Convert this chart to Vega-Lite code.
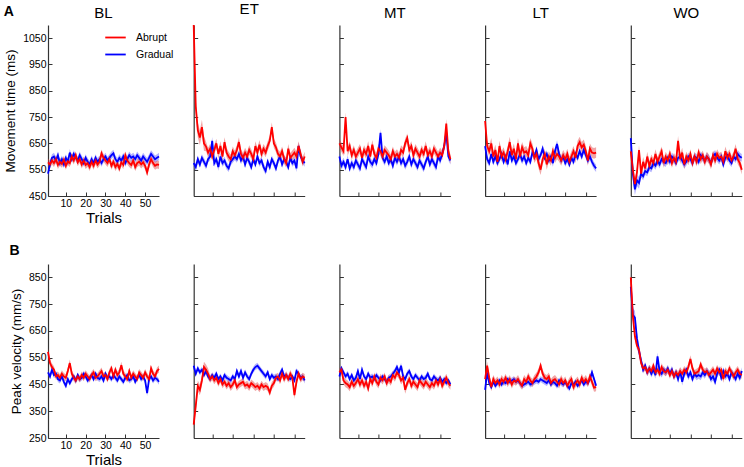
{
  "$schema": "https://vega.github.io/schema/vega-lite/v6.json",
  "background": "white",
  "padding": {"left": 3, "top": 2, "right": 0, "bottom": 0},
  "datasets": {
    "A_BL": [
      {"t":1,"a":578,"g":535,"ea":15,"eg":14},{"t":2,"a":570,"g":570,"ea":15,"eg":14},{"t":3,"a":585,"g":595,"ea":15,"eg":14},{"t":4,"a":575,"g":600,"ea":15,"eg":14},{"t":5,"a":590,"g":585,"ea":15,"eg":14},
      {"t":6,"a":568,"g":605,"ea":15,"eg":14},{"t":7,"a":580,"g":575,"ea":15,"eg":14},{"t":8,"a":572,"g":590,"ea":15,"eg":14},{"t":9,"a":588,"g":570,"ea":15,"eg":14},{"t":10,"a":565,"g":595,"ea":15,"eg":14},
      {"t":11,"a":582,"g":580,"ea":15,"eg":14},{"t":12,"a":575,"g":615,"ea":15,"eg":14},{"t":13,"a":600,"g":590,"ea":15,"eg":14},{"t":14,"a":585,"g":610,"ea":15,"eg":14},{"t":15,"a":605,"g":595,"ea":15,"eg":14},
      {"t":16,"a":578,"g":585,"ea":15,"eg":14},{"t":17,"a":590,"g":605,"ea":15,"eg":14},{"t":18,"a":570,"g":590,"ea":15,"eg":14},{"t":19,"a":585,"g":575,"ea":15,"eg":14},{"t":20,"a":568,"g":595,"ea":15,"eg":14},
      {"t":21,"a":575,"g":580,"ea":15,"eg":14},{"t":22,"a":560,"g":570,"ea":15,"eg":14},{"t":23,"a":580,"g":590,"ea":15,"eg":14},{"t":24,"a":565,"g":575,"ea":15,"eg":14},{"t":25,"a":585,"g":595,"ea":15,"eg":14},
      {"t":26,"a":570,"g":580,"ea":15,"eg":14},{"t":27,"a":580,"g":590,"ea":15,"eg":14},{"t":28,"a":612,"g":575,"ea":15,"eg":14},{"t":29,"a":595,"g":590,"ea":15,"eg":14},{"t":30,"a":585,"g":600,"ea":15,"eg":14},
      {"t":31,"a":575,"g":585,"ea":15,"eg":14},{"t":32,"a":590,"g":595,"ea":15,"eg":14},{"t":33,"a":565,"g":605,"ea":15,"eg":14},{"t":34,"a":580,"g":612,"ea":15,"eg":14},{"t":35,"a":560,"g":590,"ea":15,"eg":14},
      {"t":36,"a":572,"g":580,"ea":15,"eg":14},{"t":37,"a":555,"g":595,"ea":15,"eg":14},{"t":38,"a":578,"g":585,"ea":15,"eg":14},{"t":39,"a":568,"g":600,"ea":15,"eg":14},{"t":40,"a":605,"g":575,"ea":15,"eg":14},
      {"t":41,"a":585,"g":590,"ea":15,"eg":14},{"t":42,"a":575,"g":605,"ea":15,"eg":14},{"t":43,"a":568,"g":595,"ea":15,"eg":14},{"t":44,"a":585,"g":600,"ea":15,"eg":14},{"t":45,"a":560,"g":590,"ea":15,"eg":14},
      {"t":46,"a":575,"g":605,"ea":15,"eg":14},{"t":47,"a":580,"g":595,"ea":15,"eg":14},{"t":48,"a":570,"g":585,"ea":15,"eg":14},{"t":49,"a":578,"g":600,"ea":15,"eg":14},{"t":50,"a":565,"g":590,"ea":15,"eg":14},
      {"t":51,"a":540,"g":580,"ea":15,"eg":14},{"t":52,"a":570,"g":595,"ea":15,"eg":14},{"t":53,"a":590,"g":610,"ea":15,"eg":14},{"t":54,"a":575,"g":600,"ea":15,"eg":14},{"t":55,"a":565,"g":590,"ea":15,"eg":14},
      {"t":56,"a":570,"g":595,"ea":15,"eg":14},{"t":57,"a":568,"g":600,"ea":15,"eg":14}
    ],
    "A_ET": [
      {"t":1,"a":1100,"g":575,"ea":10,"eg":14},{"t":2,"a":790,"g":560,"ea":28,"eg":14},{"t":3,"a":700,"g":590,"ea":28,"eg":14},{"t":4,"a":672,"g":570,"ea":28,"eg":14},{"t":5,"a":712,"g":595,"ea":28,"eg":14},
      {"t":6,"a":650,"g":580,"ea":28,"eg":14},{"t":7,"a":638,"g":565,"ea":18,"eg":14},{"t":8,"a":615,"g":590,"ea":18,"eg":14},{"t":9,"a":630,"g":600,"ea":18,"eg":14},{"t":10,"a":600,"g":660,"ea":18,"eg":14},
      {"t":11,"a":625,"g":575,"ea":18,"eg":14},{"t":12,"a":650,"g":590,"ea":18,"eg":14},{"t":13,"a":610,"g":560,"ea":18,"eg":14},{"t":14,"a":640,"g":600,"ea":18,"eg":14},{"t":15,"a":600,"g":575,"ea":18,"eg":14},
      {"t":16,"a":655,"g":585,"ea":18,"eg":14},{"t":17,"a":615,"g":565,"ea":18,"eg":14},{"t":18,"a":600,"g":555,"ea":18,"eg":14},{"t":19,"a":590,"g":580,"ea":18,"eg":14},{"t":20,"a":620,"g":590,"ea":18,"eg":14},
      {"t":21,"a":605,"g":600,"ea":18,"eg":14},{"t":22,"a":625,"g":590,"ea":18,"eg":14},{"t":23,"a":655,"g":610,"ea":18,"eg":14},{"t":24,"a":610,"g":585,"ea":18,"eg":14},{"t":25,"a":595,"g":600,"ea":18,"eg":14},
      {"t":26,"a":615,"g":570,"ea":18,"eg":14},{"t":27,"a":600,"g":595,"ea":18,"eg":14},{"t":28,"a":625,"g":580,"ea":18,"eg":14},{"t":29,"a":610,"g":560,"ea":18,"eg":14},{"t":30,"a":590,"g":590,"ea":18,"eg":14},
      {"t":31,"a":640,"g":570,"ea":18,"eg":14},{"t":32,"a":615,"g":600,"ea":18,"eg":14},{"t":33,"a":645,"g":575,"ea":18,"eg":14},{"t":34,"a":610,"g":585,"ea":18,"eg":14},{"t":35,"a":630,"g":560,"ea":18,"eg":14},
      {"t":36,"a":615,"g":545,"ea":18,"eg":14},{"t":37,"a":640,"g":580,"ea":18,"eg":14},{"t":38,"a":660,"g":560,"ea":18,"eg":14},{"t":39,"a":712,"g":590,"ea":18,"eg":14},{"t":40,"a":650,"g":575,"ea":18,"eg":14},
      {"t":41,"a":635,"g":555,"ea":18,"eg":14},{"t":42,"a":610,"g":585,"ea":18,"eg":14},{"t":43,"a":600,"g":600,"ea":18,"eg":14},{"t":44,"a":620,"g":570,"ea":18,"eg":14},{"t":45,"a":590,"g":590,"ea":18,"eg":14},
      {"t":46,"a":575,"g":580,"ea":18,"eg":14},{"t":47,"a":630,"g":560,"ea":18,"eg":14},{"t":48,"a":595,"g":595,"ea":18,"eg":14},{"t":49,"a":605,"g":575,"ea":18,"eg":14},{"t":50,"a":615,"g":585,"ea":18,"eg":14},
      {"t":51,"a":600,"g":555,"ea":18,"eg":14},{"t":52,"a":640,"g":640,"ea":18,"eg":14},{"t":53,"a":610,"g":600,"ea":18,"eg":14},{"t":54,"a":580,"g":585,"ea":18,"eg":14},{"t":55,"a":600,"g":575,"ea":18,"eg":14}
    ],
    "A_MT": [
      {"t":1,"a":650,"g":600,"ea":18,"eg":15},{"t":2,"a":635,"g":565,"ea":18,"eg":15},{"t":3,"a":620,"g":580,"ea":18,"eg":15},{"t":4,"a":750,"g":560,"ea":18,"eg":15},{"t":5,"a":620,"g":590,"ea":18,"eg":15},
      {"t":6,"a":640,"g":555,"ea":18,"eg":15},{"t":7,"a":605,"g":575,"ea":18,"eg":15},{"t":8,"a":625,"g":560,"ea":18,"eg":15},{"t":9,"a":600,"g":585,"ea":18,"eg":15},{"t":10,"a":615,"g":570,"ea":18,"eg":15},
      {"t":11,"a":630,"g":555,"ea":18,"eg":15},{"t":12,"a":595,"g":590,"ea":18,"eg":15},{"t":13,"a":625,"g":575,"ea":18,"eg":15},{"t":14,"a":610,"g":560,"ea":18,"eg":15},{"t":15,"a":640,"g":600,"ea":18,"eg":15},
      {"t":16,"a":600,"g":580,"ea":18,"eg":15},{"t":17,"a":645,"g":570,"ea":18,"eg":15},{"t":18,"a":610,"g":590,"ea":18,"eg":15},{"t":19,"a":595,"g":575,"ea":18,"eg":15},{"t":20,"a":630,"g":610,"ea":18,"eg":15},
      {"t":21,"a":620,"g":690,"ea":18,"eg":15},{"t":22,"a":600,"g":595,"ea":18,"eg":15},{"t":23,"a":625,"g":580,"ea":18,"eg":15},{"t":24,"a":615,"g":600,"ea":18,"eg":15},{"t":25,"a":605,"g":575,"ea":18,"eg":15},
      {"t":26,"a":590,"g":590,"ea":18,"eg":15},{"t":27,"a":620,"g":565,"ea":18,"eg":15},{"t":28,"a":600,"g":595,"ea":18,"eg":15},{"t":29,"a":610,"g":580,"ea":18,"eg":15},{"t":30,"a":595,"g":600,"ea":18,"eg":15},
      {"t":31,"a":625,"g":575,"ea":18,"eg":15},{"t":32,"a":615,"g":590,"ea":18,"eg":15},{"t":33,"a":650,"g":565,"ea":18,"eg":15},{"t":34,"a":670,"g":580,"ea":18,"eg":15},{"t":35,"a":625,"g":600,"ea":18,"eg":15},
      {"t":36,"a":640,"g":570,"ea":18,"eg":15},{"t":37,"a":605,"g":590,"ea":18,"eg":15},{"t":38,"a":630,"g":575,"ea":18,"eg":15},{"t":39,"a":615,"g":560,"ea":18,"eg":15},{"t":40,"a":600,"g":585,"ea":18,"eg":15},
      {"t":41,"a":625,"g":570,"ea":18,"eg":15},{"t":42,"a":610,"g":555,"ea":18,"eg":15},{"t":43,"a":640,"g":580,"ea":18,"eg":15},{"t":44,"a":605,"g":600,"ea":18,"eg":15},{"t":45,"a":620,"g":570,"ea":18,"eg":15},
      {"t":46,"a":600,"g":590,"ea":18,"eg":15},{"t":47,"a":630,"g":575,"ea":18,"eg":15},{"t":48,"a":615,"g":560,"ea":18,"eg":15},{"t":49,"a":600,"g":600,"ea":18,"eg":15},{"t":50,"a":615,"g":585,"ea":18,"eg":15},
      {"t":51,"a":605,"g":610,"ea":18,"eg":15},{"t":52,"a":640,"g":640,"ea":18,"eg":15},{"t":53,"a":725,"g":690,"ea":18,"eg":15},{"t":54,"a":620,"g":600,"ea":18,"eg":15},{"t":55,"a":590,"g":585,"ea":18,"eg":15}
    ],
    "A_LT": [
      {"t":1,"a":735,"g":640,"ea":20,"eg":14},{"t":2,"a":640,"g":590,"ea":20,"eg":14},{"t":3,"a":620,"g":575,"ea":20,"eg":14},{"t":4,"a":650,"g":610,"ea":20,"eg":14},{"t":5,"a":600,"g":580,"ea":20,"eg":14},
      {"t":6,"a":625,"g":600,"ea":20,"eg":14},{"t":7,"a":580,"g":575,"ea":20,"eg":14},{"t":8,"a":640,"g":590,"ea":20,"eg":14},{"t":9,"a":600,"g":610,"ea":20,"eg":14},{"t":10,"a":615,"g":580,"ea":20,"eg":14},
      {"t":11,"a":590,"g":600,"ea":20,"eg":14},{"t":12,"a":620,"g":570,"ea":20,"eg":14},{"t":13,"a":655,"g":620,"ea":20,"eg":14},{"t":14,"a":605,"g":585,"ea":20,"eg":14},{"t":15,"a":630,"g":600,"ea":20,"eg":14},
      {"t":16,"a":590,"g":575,"ea":20,"eg":14},{"t":17,"a":650,"g":590,"ea":20,"eg":14},{"t":18,"a":600,"g":610,"ea":20,"eg":14},{"t":19,"a":635,"g":585,"ea":20,"eg":14},{"t":20,"a":615,"g":600,"ea":20,"eg":14},
      {"t":21,"a":620,"g":575,"ea":20,"eg":14},{"t":22,"a":605,"g":595,"ea":20,"eg":14},{"t":23,"a":650,"g":580,"ea":20,"eg":14},{"t":24,"a":630,"g":615,"ea":20,"eg":14},{"t":25,"a":595,"g":600,"ea":20,"eg":14},
      {"t":26,"a":610,"g":625,"ea":20,"eg":14},{"t":27,"a":575,"g":590,"ea":20,"eg":14},{"t":28,"a":550,"g":605,"ea":20,"eg":14},{"t":29,"a":590,"g":630,"ea":20,"eg":14},{"t":30,"a":610,"g":595,"ea":20,"eg":14},
      {"t":31,"a":570,"g":610,"ea":20,"eg":14},{"t":32,"a":600,"g":585,"ea":20,"eg":14},{"t":33,"a":585,"g":600,"ea":20,"eg":14},{"t":34,"a":620,"g":575,"ea":20,"eg":14},{"t":35,"a":595,"g":620,"ea":20,"eg":14},
      {"t":36,"a":610,"g":648,"ea":20,"eg":14},{"t":37,"a":600,"g":610,"ea":20,"eg":14},{"t":38,"a":585,"g":585,"ea":20,"eg":14},{"t":39,"a":605,"g":600,"ea":20,"eg":14},{"t":40,"a":590,"g":575,"ea":20,"eg":14},
      {"t":41,"a":610,"g":590,"ea":20,"eg":14},{"t":42,"a":580,"g":570,"ea":20,"eg":14},{"t":43,"a":600,"g":595,"ea":20,"eg":14},{"t":44,"a":620,"g":580,"ea":20,"eg":14},{"t":45,"a":595,"g":610,"ea":20,"eg":14},
      {"t":46,"a":640,"g":595,"ea":20,"eg":14},{"t":47,"a":655,"g":620,"ea":20,"eg":14},{"t":48,"a":635,"g":600,"ea":20,"eg":14},{"t":49,"a":645,"g":625,"ea":20,"eg":14},{"t":50,"a":620,"g":605,"ea":20,"eg":14},
      {"t":51,"a":585,"g":585,"ea":20,"eg":14},{"t":52,"a":630,"g":600,"ea":20,"eg":14},{"t":53,"a":615,"g":580,"ea":20,"eg":14},{"t":54,"a":612,"g":565,"ea":20,"eg":14},{"t":55,"a":615,"g":555,"ea":20,"eg":14}
    ],
    "A_WO": [
      {"t":1,"a":620,"g":670,"ea":18,"eg":22},{"t":2,"a":550,"g":535,"ea":18,"eg":22},{"t":3,"a":495,"g":475,"ea":18,"eg":22},{"t":4,"a":540,"g":510,"ea":18,"eg":22},{"t":5,"a":625,"g":500,"ea":18,"eg":22},
      {"t":6,"a":535,"g":535,"ea":18,"eg":15},{"t":7,"a":580,"g":525,"ea":18,"eg":15},{"t":8,"a":555,"g":545,"ea":18,"eg":15},{"t":9,"a":600,"g":540,"ea":18,"eg":15},{"t":10,"a":565,"g":560,"ea":18,"eg":15},
      {"t":11,"a":590,"g":555,"ea":18,"eg":15},{"t":12,"a":575,"g":575,"ea":18,"eg":15},{"t":13,"a":610,"g":565,"ea":18,"eg":15},{"t":14,"a":580,"g":585,"ea":18,"eg":15},{"t":15,"a":600,"g":570,"ea":18,"eg":15},
      {"t":16,"a":620,"g":590,"ea":18,"eg":15},{"t":17,"a":575,"g":580,"ea":18,"eg":15},{"t":18,"a":600,"g":575,"ea":18,"eg":15},{"t":19,"a":585,"g":595,"ea":18,"eg":15},{"t":20,"a":610,"g":580,"ea":18,"eg":15},
      {"t":21,"a":575,"g":600,"ea":18,"eg":15},{"t":22,"a":595,"g":590,"ea":18,"eg":15},{"t":23,"a":580,"g":575,"ea":18,"eg":15},{"t":24,"a":660,"g":595,"ea":18,"eg":15},{"t":25,"a":590,"g":600,"ea":18,"eg":15},
      {"t":26,"a":615,"g":585,"ea":18,"eg":15},{"t":27,"a":570,"g":570,"ea":18,"eg":15},{"t":28,"a":600,"g":580,"ea":18,"eg":15},{"t":29,"a":585,"g":600,"ea":18,"eg":15},{"t":30,"a":610,"g":590,"ea":18,"eg":15},
      {"t":31,"a":575,"g":575,"ea":18,"eg":15},{"t":32,"a":600,"g":600,"ea":18,"eg":15},{"t":33,"a":580,"g":595,"ea":18,"eg":15},{"t":34,"a":615,"g":580,"ea":18,"eg":15},{"t":35,"a":590,"g":605,"ea":18,"eg":15},
      {"t":36,"a":605,"g":595,"ea":18,"eg":15},{"t":37,"a":580,"g":585,"ea":18,"eg":15},{"t":38,"a":600,"g":600,"ea":18,"eg":15},{"t":39,"a":590,"g":590,"ea":18,"eg":15},{"t":40,"a":570,"g":575,"ea":18,"eg":15},
      {"t":41,"a":605,"g":600,"ea":18,"eg":15},{"t":42,"a":585,"g":610,"ea":18,"eg":15},{"t":43,"a":610,"g":595,"ea":18,"eg":15},{"t":44,"a":595,"g":585,"ea":18,"eg":15},{"t":45,"a":600,"g":600,"ea":18,"eg":15},
      {"t":46,"a":580,"g":570,"ea":18,"eg":15},{"t":47,"a":620,"g":595,"ea":18,"eg":15},{"t":48,"a":595,"g":605,"ea":18,"eg":15},{"t":49,"a":610,"g":585,"ea":18,"eg":15},{"t":50,"a":585,"g":575,"ea":18,"eg":15},
      {"t":51,"a":600,"g":600,"ea":18,"eg":15},{"t":52,"a":630,"g":590,"ea":18,"eg":15},{"t":53,"a":590,"g":610,"ea":18,"eg":15},{"t":54,"a":575,"g":600,"ea":18,"eg":15},{"t":55,"a":550,"g":595,"ea":18,"eg":15}
    ],
    "B_BL": [
      {"t":1,"a":572,"g":495,"ea":13,"eg":11},{"t":2,"a":530,"g":480,"ea":13,"eg":11},{"t":3,"a":515,"g":505,"ea":13,"eg":11},{"t":4,"a":505,"g":485,"ea":13,"eg":11},{"t":5,"a":480,"g":490,"ea":13,"eg":11},
      {"t":6,"a":485,"g":470,"ea":13,"eg":11},{"t":7,"a":475,"g":465,"ea":13,"eg":11},{"t":8,"a":490,"g":480,"ea":13,"eg":11},{"t":9,"a":480,"g":460,"ea":13,"eg":11},{"t":10,"a":475,"g":445,"ea":13,"eg":11},
      {"t":11,"a":500,"g":470,"ea":13,"eg":11},{"t":12,"a":530,"g":455,"ea":13,"eg":11},{"t":13,"a":490,"g":470,"ea":13,"eg":11},{"t":14,"a":475,"g":480,"ea":13,"eg":11},{"t":15,"a":465,"g":465,"ea":13,"eg":11},
      {"t":16,"a":480,"g":485,"ea":13,"eg":11},{"t":17,"a":470,"g":470,"ea":13,"eg":11},{"t":18,"a":485,"g":475,"ea":13,"eg":11},{"t":19,"a":475,"g":490,"ea":13,"eg":11},{"t":20,"a":490,"g":480,"ea":13,"eg":11},
      {"t":21,"a":480,"g":465,"ea":13,"eg":11},{"t":22,"a":470,"g":475,"ea":13,"eg":11},{"t":23,"a":485,"g":485,"ea":13,"eg":11},{"t":24,"a":495,"g":470,"ea":13,"eg":11},{"t":25,"a":475,"g":490,"ea":13,"eg":11},
      {"t":26,"a":480,"g":475,"ea":13,"eg":11},{"t":27,"a":490,"g":470,"ea":13,"eg":11},{"t":28,"a":500,"g":480,"ea":13,"eg":11},{"t":29,"a":480,"g":465,"ea":13,"eg":11},{"t":30,"a":485,"g":490,"ea":13,"eg":11},
      {"t":31,"a":470,"g":475,"ea":13,"eg":11},{"t":32,"a":495,"g":480,"ea":13,"eg":11},{"t":33,"a":510,"g":470,"ea":13,"eg":11},{"t":34,"a":480,"g":485,"ea":13,"eg":11},{"t":35,"a":505,"g":475,"ea":13,"eg":11},
      {"t":36,"a":485,"g":465,"ea":13,"eg":11},{"t":37,"a":495,"g":480,"ea":13,"eg":11},{"t":38,"a":522,"g":470,"ea":13,"eg":11},{"t":39,"a":490,"g":460,"ea":13,"eg":11},{"t":40,"a":480,"g":475,"ea":13,"eg":11},
      {"t":41,"a":470,"g":485,"ea":13,"eg":11},{"t":42,"a":500,"g":465,"ea":13,"eg":11},{"t":43,"a":475,"g":470,"ea":13,"eg":11},{"t":44,"a":490,"g":480,"ea":13,"eg":11},{"t":45,"a":480,"g":460,"ea":13,"eg":11},
      {"t":46,"a":470,"g":475,"ea":13,"eg":11},{"t":47,"a":495,"g":485,"ea":13,"eg":11},{"t":48,"a":485,"g":470,"ea":13,"eg":11},{"t":49,"a":475,"g":480,"ea":13,"eg":11},{"t":50,"a":495,"g":465,"ea":13,"eg":11},
      {"t":51,"a":480,"g":418,"ea":13,"eg":11},{"t":52,"a":470,"g":470,"ea":13,"eg":11},{"t":53,"a":510,"g":480,"ea":13,"eg":11},{"t":54,"a":490,"g":465,"ea":13,"eg":11},{"t":55,"a":480,"g":475,"ea":13,"eg":11},
      {"t":56,"a":500,"g":470,"ea":13,"eg":11},{"t":57,"a":508,"g":460,"ea":13,"eg":11}
    ],
    "B_ET": [
      {"t":1,"a":300,"g":520,"ea":14,"eg":11},{"t":2,"a":370,"g":490,"ea":20,"eg":11},{"t":3,"a":445,"g":510,"ea":20,"eg":11},{"t":4,"a":430,"g":495,"ea":20,"eg":11},{"t":5,"a":465,"g":505,"ea":20,"eg":11},
      {"t":6,"a":515,"g":485,"ea":20,"eg":11},{"t":7,"a":505,"g":500,"ea":20,"eg":11},{"t":8,"a":490,"g":480,"ea":20,"eg":11},{"t":9,"a":470,"g":470,"ea":14,"eg":11},{"t":10,"a":480,"g":485,"ea":14,"eg":11},
      {"t":11,"a":465,"g":475,"ea":14,"eg":11},{"t":12,"a":475,"g":490,"ea":14,"eg":11},{"t":13,"a":455,"g":470,"ea":14,"eg":11},{"t":14,"a":470,"g":480,"ea":14,"eg":11},{"t":15,"a":450,"g":465,"ea":14,"eg":11},
      {"t":16,"a":460,"g":485,"ea":14,"eg":11},{"t":17,"a":445,"g":475,"ea":14,"eg":11},{"t":18,"a":455,"g":470,"ea":14,"eg":11},{"t":19,"a":440,"g":465,"ea":14,"eg":11},{"t":20,"a":450,"g":480,"ea":14,"eg":11},
      {"t":21,"a":465,"g":470,"ea":14,"eg":11},{"t":22,"a":440,"g":500,"ea":14,"eg":11},{"t":23,"a":450,"g":480,"ea":14,"eg":11},{"t":24,"a":455,"g":500,"ea":14,"eg":11},{"t":25,"a":460,"g":475,"ea":14,"eg":11},
      {"t":26,"a":445,"g":495,"ea":14,"eg":11},{"t":27,"a":450,"g":480,"ea":14,"eg":11},{"t":28,"a":440,"g":470,"ea":14,"eg":11},{"t":29,"a":455,"g":490,"ea":14,"eg":11},{"t":30,"a":448,"g":505,"ea":14,"eg":11},
      {"t":31,"a":440,"g":515,"ea":14,"eg":11},{"t":32,"a":445,"g":520,"ea":14,"eg":11},{"t":33,"a":435,"g":510,"ea":14,"eg":11},{"t":34,"a":450,"g":500,"ea":14,"eg":11},{"t":35,"a":440,"g":490,"ea":14,"eg":11},
      {"t":36,"a":445,"g":480,"ea":14,"eg":11},{"t":37,"a":440,"g":495,"ea":14,"eg":11},{"t":38,"a":420,"g":470,"ea":14,"eg":11},{"t":39,"a":445,"g":485,"ea":14,"eg":11},{"t":40,"a":455,"g":475,"ea":14,"eg":11},
      {"t":41,"a":475,"g":480,"ea":14,"eg":11},{"t":42,"a":480,"g":470,"ea":14,"eg":11},{"t":43,"a":465,"g":490,"ea":14,"eg":11},{"t":44,"a":490,"g":505,"ea":14,"eg":11},{"t":45,"a":470,"g":480,"ea":14,"eg":11},
      {"t":46,"a":485,"g":485,"ea":14,"eg":11},{"t":47,"a":470,"g":475,"ea":14,"eg":11},{"t":48,"a":490,"g":470,"ea":14,"eg":11},{"t":49,"a":475,"g":480,"ea":14,"eg":11},{"t":50,"a":410,"g":465,"ea":14,"eg":11},
      {"t":51,"a":460,"g":500,"ea":14,"eg":11},{"t":52,"a":490,"g":490,"ea":14,"eg":11},{"t":53,"a":470,"g":475,"ea":14,"eg":11},{"t":54,"a":480,"g":480,"ea":14,"eg":11},{"t":55,"a":475,"g":465,"ea":14,"eg":11}
    ],
    "B_MT": [
      {"t":1,"a":495,"g":480,"ea":15,"eg":11},{"t":2,"a":505,"g":510,"ea":15,"eg":11},{"t":3,"a":465,"g":495,"ea":15,"eg":11},{"t":4,"a":455,"g":480,"ea":15,"eg":11},{"t":5,"a":450,"g":490,"ea":15,"eg":11},
      {"t":6,"a":440,"g":470,"ea":15,"eg":11},{"t":7,"a":460,"g":485,"ea":15,"eg":11},{"t":8,"a":445,"g":465,"ea":15,"eg":11},{"t":9,"a":455,"g":475,"ea":15,"eg":11},{"t":10,"a":470,"g":500,"ea":15,"eg":11},
      {"t":11,"a":450,"g":470,"ea":15,"eg":11},{"t":12,"a":465,"g":505,"ea":15,"eg":11},{"t":13,"a":445,"g":480,"ea":15,"eg":11},{"t":14,"a":460,"g":470,"ea":15,"eg":11},{"t":15,"a":435,"g":490,"ea":15,"eg":11},
      {"t":16,"a":470,"g":475,"ea":15,"eg":11},{"t":17,"a":455,"g":480,"ea":15,"eg":11},{"t":18,"a":480,"g":470,"ea":15,"eg":11},{"t":19,"a":460,"g":485,"ea":15,"eg":11},{"t":20,"a":450,"g":475,"ea":15,"eg":11},
      {"t":21,"a":475,"g":465,"ea":15,"eg":11},{"t":22,"a":465,"g":480,"ea":15,"eg":11},{"t":23,"a":480,"g":470,"ea":15,"eg":11},{"t":24,"a":455,"g":460,"ea":15,"eg":11},{"t":25,"a":470,"g":475,"ea":15,"eg":11},
      {"t":26,"a":460,"g":480,"ea":15,"eg":11},{"t":27,"a":485,"g":490,"ea":15,"eg":11},{"t":28,"a":475,"g":500,"ea":15,"eg":11},{"t":29,"a":495,"g":515,"ea":15,"eg":11},{"t":30,"a":485,"g":495,"ea":15,"eg":11},
      {"t":31,"a":465,"g":520,"ea":15,"eg":11},{"t":32,"a":475,"g":480,"ea":15,"eg":11},{"t":33,"a":430,"g":470,"ea":15,"eg":11},{"t":34,"a":455,"g":490,"ea":15,"eg":11},{"t":35,"a":470,"g":500,"ea":15,"eg":11},
      {"t":36,"a":445,"g":480,"ea":15,"eg":11},{"t":37,"a":460,"g":470,"ea":15,"eg":11},{"t":38,"a":450,"g":485,"ea":15,"eg":11},{"t":39,"a":440,"g":475,"ea":15,"eg":11},{"t":40,"a":465,"g":465,"ea":15,"eg":11},
      {"t":41,"a":455,"g":480,"ea":15,"eg":11},{"t":42,"a":445,"g":470,"ea":15,"eg":11},{"t":43,"a":460,"g":475,"ea":15,"eg":11},{"t":44,"a":450,"g":490,"ea":15,"eg":11},{"t":45,"a":440,"g":470,"ea":15,"eg":11},
      {"t":46,"a":455,"g":465,"ea":15,"eg":11},{"t":47,"a":445,"g":480,"ea":15,"eg":11},{"t":48,"a":465,"g":470,"ea":15,"eg":11},{"t":49,"a":450,"g":465,"ea":15,"eg":11},{"t":50,"a":470,"g":475,"ea":15,"eg":11},
      {"t":51,"a":445,"g":460,"ea":15,"eg":11},{"t":52,"a":460,"g":470,"ea":15,"eg":11},{"t":53,"a":475,"g":455,"ea":15,"eg":11},{"t":54,"a":455,"g":465,"ea":15,"eg":11},{"t":55,"a":445,"g":450,"ea":15,"eg":11}
    ],
    "B_LT": [
      {"t":1,"a":470,"g":430,"ea":15,"eg":11},{"t":2,"a":520,"g":495,"ea":15,"eg":11},{"t":3,"a":475,"g":455,"ea":15,"eg":11},{"t":4,"a":440,"g":440,"ea":15,"eg":11},{"t":5,"a":470,"g":460,"ea":15,"eg":11},
      {"t":6,"a":455,"g":445,"ea":15,"eg":11},{"t":7,"a":465,"g":455,"ea":15,"eg":11},{"t":8,"a":450,"g":465,"ea":15,"eg":11},{"t":9,"a":470,"g":450,"ea":15,"eg":11},{"t":10,"a":460,"g":460,"ea":15,"eg":11},
      {"t":11,"a":475,"g":455,"ea":15,"eg":11},{"t":12,"a":455,"g":470,"ea":15,"eg":11},{"t":13,"a":470,"g":460,"ea":15,"eg":11},{"t":14,"a":450,"g":465,"ea":15,"eg":11},{"t":15,"a":465,"g":470,"ea":15,"eg":11},
      {"t":16,"a":460,"g":460,"ea":15,"eg":11},{"t":17,"a":470,"g":465,"ea":15,"eg":11},{"t":18,"a":455,"g":455,"ea":15,"eg":11},{"t":19,"a":445,"g":445,"ea":15,"eg":11},{"t":20,"a":470,"g":450,"ea":15,"eg":11},
      {"t":21,"a":460,"g":455,"ea":15,"eg":11},{"t":22,"a":480,"g":460,"ea":15,"eg":11},{"t":23,"a":465,"g":450,"ea":15,"eg":11},{"t":24,"a":455,"g":455,"ea":15,"eg":11},{"t":25,"a":470,"g":460,"ea":15,"eg":11},
      {"t":26,"a":480,"g":465,"ea":15,"eg":11},{"t":27,"a":495,"g":460,"ea":15,"eg":11},{"t":28,"a":520,"g":470,"ea":15,"eg":11},{"t":29,"a":490,"g":465,"ea":15,"eg":11},{"t":30,"a":475,"g":460,"ea":15,"eg":11},
      {"t":31,"a":470,"g":455,"ea":15,"eg":11},{"t":32,"a":480,"g":465,"ea":15,"eg":11},{"t":33,"a":455,"g":450,"ea":15,"eg":11},{"t":34,"a":465,"g":460,"ea":15,"eg":11},{"t":35,"a":470,"g":455,"ea":15,"eg":11},
      {"t":36,"a":460,"g":445,"ea":15,"eg":11},{"t":37,"a":450,"g":465,"ea":15,"eg":11},{"t":38,"a":470,"g":455,"ea":15,"eg":11},{"t":39,"a":455,"g":450,"ea":15,"eg":11},{"t":40,"a":465,"g":460,"ea":15,"eg":11},
      {"t":41,"a":445,"g":445,"ea":15,"eg":11},{"t":42,"a":460,"g":435,"ea":15,"eg":11},{"t":43,"a":470,"g":455,"ea":15,"eg":11},{"t":44,"a":440,"g":450,"ea":15,"eg":11},{"t":45,"a":455,"g":460,"ea":15,"eg":11},
      {"t":46,"a":465,"g":445,"ea":15,"eg":11},{"t":47,"a":450,"g":455,"ea":15,"eg":11},{"t":48,"a":475,"g":465,"ea":15,"eg":11},{"t":49,"a":460,"g":450,"ea":15,"eg":11},{"t":50,"a":470,"g":460,"ea":15,"eg":11},
      {"t":51,"a":455,"g":455,"ea":15,"eg":11},{"t":52,"a":480,"g":470,"ea":15,"eg":11},{"t":53,"a":460,"g":495,"ea":15,"eg":11},{"t":54,"a":438,"g":470,"ea":15,"eg":11},{"t":55,"a":440,"g":445,"ea":15,"eg":11}
    ],
    "B_WO": [
      {"t":1,"a":850,"g":815,"ea":14,"eg":25},{"t":2,"a":705,"g":710,"ea":14,"eg":25},{"t":3,"a":630,"g":700,"ea":14,"eg":25},{"t":4,"a":595,"g":620,"ea":14,"eg":25},{"t":5,"a":580,"g":575,"ea":14,"eg":25},
      {"t":6,"a":530,"g":540,"ea":14,"eg":14},{"t":7,"a":510,"g":505,"ea":14,"eg":14},{"t":8,"a":515,"g":520,"ea":14,"eg":14},{"t":9,"a":495,"g":495,"ea":14,"eg":14},{"t":10,"a":510,"g":510,"ea":14,"eg":14},
      {"t":11,"a":500,"g":490,"ea":14,"eg":14},{"t":12,"a":520,"g":505,"ea":14,"eg":14},{"t":13,"a":495,"g":485,"ea":14,"eg":14},{"t":14,"a":505,"g":555,"ea":14,"eg":14},{"t":15,"a":490,"g":500,"ea":14,"eg":14},
      {"t":16,"a":515,"g":490,"ea":14,"eg":14},{"t":17,"a":500,"g":505,"ea":14,"eg":14},{"t":18,"a":495,"g":495,"ea":14,"eg":14},{"t":19,"a":505,"g":510,"ea":14,"eg":14},{"t":20,"a":485,"g":490,"ea":14,"eg":14},
      {"t":21,"a":500,"g":505,"ea":14,"eg":14},{"t":22,"a":480,"g":480,"ea":14,"eg":14},{"t":23,"a":495,"g":495,"ea":14,"eg":14},{"t":24,"a":485,"g":470,"ea":14,"eg":14},{"t":25,"a":500,"g":500,"ea":14,"eg":14},
      {"t":26,"a":490,"g":460,"ea":14,"eg":14},{"t":27,"a":505,"g":490,"ea":14,"eg":14},{"t":28,"a":495,"g":505,"ea":14,"eg":14},{"t":29,"a":515,"g":480,"ea":14,"eg":14},{"t":30,"a":545,"g":495,"ea":14,"eg":14},
      {"t":31,"a":510,"g":470,"ea":14,"eg":14},{"t":32,"a":490,"g":490,"ea":14,"eg":14},{"t":33,"a":495,"g":480,"ea":14,"eg":14},{"t":34,"a":500,"g":485,"ea":14,"eg":14},{"t":35,"a":525,"g":480,"ea":14,"eg":14},
      {"t":36,"a":505,"g":495,"ea":14,"eg":14},{"t":37,"a":495,"g":485,"ea":14,"eg":14},{"t":38,"a":500,"g":500,"ea":14,"eg":14},{"t":39,"a":485,"g":490,"ea":14,"eg":14},{"t":40,"a":495,"g":470,"ea":14,"eg":14},
      {"t":41,"a":505,"g":480,"ea":14,"eg":14},{"t":42,"a":490,"g":460,"ea":14,"eg":14},{"t":43,"a":510,"g":490,"ea":14,"eg":14},{"t":44,"a":495,"g":505,"ea":14,"eg":14},{"t":45,"a":505,"g":475,"ea":14,"eg":14},
      {"t":46,"a":470,"g":500,"ea":14,"eg":14},{"t":47,"a":500,"g":480,"ea":14,"eg":14},{"t":48,"a":490,"g":490,"ea":14,"eg":14},{"t":49,"a":510,"g":470,"ea":14,"eg":14},{"t":50,"a":495,"g":495,"ea":14,"eg":14},
      {"t":51,"a":480,"g":485,"ea":14,"eg":14},{"t":52,"a":495,"g":470,"ea":14,"eg":14},{"t":53,"a":505,"g":490,"ea":14,"eg":14},{"t":54,"a":490,"g":475,"ea":14,"eg":14},{"t":55,"a":485,"g":500,"ea":14,"eg":14}
    ]
  },
  "vconcat": [
    {
      "title": {"text": "A", "anchor": "start", "frame": "bounds", "fontSize": 14, "fontWeight": "bold", "dy": 17, "offset": 0},
      "spacing": 34.7,
      "bounds": "flush",
      "resolve": {"legend": {"color": "independent"}},
      "hconcat": [
        {
          "title": "BL", "width": 111, "height": 171,
          "data": {"name": "A_BL"},
          "encoding": {"x": {"field": "t", "type": "quantitative", "scale": {"domain": [1, 57], "nice": false}, "axis": {"values": [10, 20, 30, 40, 50], "title": "Trials"}}},
          "layer": [
            {"mark": {"type": "errorband", "color": "#4444ff", "band": {"opacity": 0.4}}, "encoding": {"y": {"field": "g", "type": "quantitative", "scale": {"domain": [450, 1100], "nice": false, "zero": false}, "axis": {"values": [450, 550, 650, 750, 850, 950, 1050], "format": "d", "title": "Movement time (ms)"}}, "yError": {"field": "eg"}}},
            {"mark": {"type": "errorband", "color": "#e03a3a", "band": {"opacity": 0.45}}, "encoding": {"y": {"field": "a", "type": "quantitative", "scale": {"domain": [450, 1100], "nice": false, "zero": false}, "axis": {"values": [450, 550, 650, 750, 850, 950, 1050], "format": "d", "title": "Movement time (ms)"}}, "yError": {"field": "ea"}}},
            {"mark": "line", "encoding": {"y": {"field": "g", "type": "quantitative", "scale": {"domain": [450, 1100], "nice": false, "zero": false}, "axis": {"values": [450, 550, 650, 750, 850, 950, 1050], "format": "d", "title": "Movement time (ms)"}}, "color": {"datum": "Gradual", "type": "nominal", "scale": {"domain": ["Abrupt", "Gradual"], "range": ["#ff0000", "#0000ff"]}, "legend": {"orient": "none", "legendX": 56, "legendY": 1, "title": null, "symbolType": "stroke", "symbolSize": 420, "symbolStrokeWidth": 2, "labelFontSize": 10.5, "labelOffset": 9, "rowPadding": 0}}}},
            {"mark": "line", "encoding": {"y": {"field": "a", "type": "quantitative", "scale": {"domain": [450, 1100], "nice": false, "zero": false}, "axis": {"values": [450, 550, 650, 750, 850, 950, 1050], "format": "d", "title": "Movement time (ms)"}}, "color": {"datum": "Abrupt", "type": "nominal", "scale": {"domain": ["Abrupt", "Gradual"], "range": ["#ff0000", "#0000ff"]}, "legend": {"orient": "none", "legendX": 56, "legendY": 1, "title": null, "symbolType": "stroke", "symbolSize": 420, "symbolStrokeWidth": 2, "labelFontSize": 10.5, "labelOffset": 9, "rowPadding": 0}}}}
          ]
        },
        {
          "title": "ET", "width": 111, "height": 171,
          "data": {"name": "A_ET"},
          "encoding": {"x": {"field": "t", "type": "quantitative", "scale": {"domain": [1, 55], "nice": false}, "axis": {"values": [10, 20, 30, 40, 50], "labels": false, "title": null}}},
          "layer": [
            {"mark": {"type": "errorband", "color": "#4444ff", "band": {"opacity": 0.4}}, "encoding": {"y": {"field": "g", "type": "quantitative", "scale": {"domain": [450, 1100], "nice": false, "zero": false}, "axis": {"values": [450, 550, 650, 750, 850, 950, 1050], "labels": false, "title": null}}, "yError": {"field": "eg"}}},
            {"mark": {"type": "errorband", "color": "#e03a3a", "band": {"opacity": 0.45}}, "encoding": {"y": {"field": "a", "type": "quantitative", "scale": {"domain": [450, 1100], "nice": false, "zero": false}, "axis": {"values": [450, 550, 650, 750, 850, 950, 1050], "labels": false, "title": null}}, "yError": {"field": "ea"}}},
            {"mark": {"type": "line", "color": "#0000ff"}, "encoding": {"y": {"field": "g", "type": "quantitative", "scale": {"domain": [450, 1100], "nice": false, "zero": false}, "axis": {"values": [450, 550, 650, 750, 850, 950, 1050], "labels": false, "title": null}}}},
            {"mark": {"type": "line", "color": "#ff0000"}, "encoding": {"y": {"field": "a", "type": "quantitative", "scale": {"domain": [450, 1100], "nice": false, "zero": false}, "axis": {"values": [450, 550, 650, 750, 850, 950, 1050], "labels": false, "title": null}}}}
          ]
        },
        {
          "title": "MT", "width": 111, "height": 171,
          "data": {"name": "A_MT"},
          "encoding": {"x": {"field": "t", "type": "quantitative", "scale": {"domain": [1, 55], "nice": false}, "axis": {"values": [10, 20, 30, 40, 50], "labels": false, "title": null}}},
          "layer": [
            {"mark": {"type": "errorband", "color": "#4444ff", "band": {"opacity": 0.4}}, "encoding": {"y": {"field": "g", "type": "quantitative", "scale": {"domain": [450, 1100], "nice": false, "zero": false}, "axis": {"values": [450, 550, 650, 750, 850, 950, 1050], "labels": false, "title": null}}, "yError": {"field": "eg"}}},
            {"mark": {"type": "errorband", "color": "#e03a3a", "band": {"opacity": 0.45}}, "encoding": {"y": {"field": "a", "type": "quantitative", "scale": {"domain": [450, 1100], "nice": false, "zero": false}, "axis": {"values": [450, 550, 650, 750, 850, 950, 1050], "labels": false, "title": null}}, "yError": {"field": "ea"}}},
            {"mark": {"type": "line", "color": "#0000ff"}, "encoding": {"y": {"field": "g", "type": "quantitative", "scale": {"domain": [450, 1100], "nice": false, "zero": false}, "axis": {"values": [450, 550, 650, 750, 850, 950, 1050], "labels": false, "title": null}}}},
            {"mark": {"type": "line", "color": "#ff0000"}, "encoding": {"y": {"field": "a", "type": "quantitative", "scale": {"domain": [450, 1100], "nice": false, "zero": false}, "axis": {"values": [450, 550, 650, 750, 850, 950, 1050], "labels": false, "title": null}}}}
          ]
        },
        {
          "title": "LT", "width": 111, "height": 171,
          "data": {"name": "A_LT"},
          "encoding": {"x": {"field": "t", "type": "quantitative", "scale": {"domain": [1, 55], "nice": false}, "axis": {"values": [10, 20, 30, 40, 50], "labels": false, "title": null}}},
          "layer": [
            {"mark": {"type": "errorband", "color": "#4444ff", "band": {"opacity": 0.4}}, "encoding": {"y": {"field": "g", "type": "quantitative", "scale": {"domain": [450, 1100], "nice": false, "zero": false}, "axis": {"values": [450, 550, 650, 750, 850, 950, 1050], "labels": false, "title": null}}, "yError": {"field": "eg"}}},
            {"mark": {"type": "errorband", "color": "#e03a3a", "band": {"opacity": 0.45}}, "encoding": {"y": {"field": "a", "type": "quantitative", "scale": {"domain": [450, 1100], "nice": false, "zero": false}, "axis": {"values": [450, 550, 650, 750, 850, 950, 1050], "labels": false, "title": null}}, "yError": {"field": "ea"}}},
            {"mark": {"type": "line", "color": "#0000ff"}, "encoding": {"y": {"field": "g", "type": "quantitative", "scale": {"domain": [450, 1100], "nice": false, "zero": false}, "axis": {"values": [450, 550, 650, 750, 850, 950, 1050], "labels": false, "title": null}}}},
            {"mark": {"type": "line", "color": "#ff0000"}, "encoding": {"y": {"field": "a", "type": "quantitative", "scale": {"domain": [450, 1100], "nice": false, "zero": false}, "axis": {"values": [450, 550, 650, 750, 850, 950, 1050], "labels": false, "title": null}}}}
          ]
        },
        {
          "title": "WO", "width": 111, "height": 171,
          "data": {"name": "A_WO"},
          "encoding": {"x": {"field": "t", "type": "quantitative", "scale": {"domain": [1, 55], "nice": false}, "axis": {"values": [10, 20, 30, 40, 50], "labels": false, "title": null}}},
          "layer": [
            {"mark": {"type": "errorband", "color": "#4444ff", "band": {"opacity": 0.4}}, "encoding": {"y": {"field": "g", "type": "quantitative", "scale": {"domain": [450, 1100], "nice": false, "zero": false}, "axis": {"values": [450, 550, 650, 750, 850, 950, 1050], "labels": false, "title": null}}, "yError": {"field": "eg"}}},
            {"mark": {"type": "errorband", "color": "#e03a3a", "band": {"opacity": 0.45}}, "encoding": {"y": {"field": "a", "type": "quantitative", "scale": {"domain": [450, 1100], "nice": false, "zero": false}, "axis": {"values": [450, 550, 650, 750, 850, 950, 1050], "labels": false, "title": null}}, "yError": {"field": "ea"}}},
            {"mark": {"type": "line", "color": "#0000ff"}, "encoding": {"y": {"field": "g", "type": "quantitative", "scale": {"domain": [450, 1100], "nice": false, "zero": false}, "axis": {"values": [450, 550, 650, 750, 850, 950, 1050], "labels": false, "title": null}}}},
            {"mark": {"type": "line", "color": "#ff0000"}, "encoding": {"y": {"field": "a", "type": "quantitative", "scale": {"domain": [450, 1100], "nice": false, "zero": false}, "axis": {"values": [450, 550, 650, 750, 850, 950, 1050], "labels": false, "title": null}}}}
          ]
        }
      ]
    },
    {
      "title": {"text": "B", "anchor": "start", "frame": "bounds", "fontSize": 14, "fontWeight": "bold", "offset": 6},
      "spacing": 34.7,
      "bounds": "flush",
      "hconcat": [
        {
          "width": 111, "height": 174,
          "data": {"name": "B_BL"},
          "encoding": {"x": {"field": "t", "type": "quantitative", "scale": {"domain": [1, 57], "nice": false}, "axis": {"values": [10, 20, 30, 40, 50], "title": "Trials"}}},
          "layer": [
            {"mark": {"type": "errorband", "color": "#4444ff", "band": {"opacity": 0.4}}, "encoding": {"y": {"field": "g", "type": "quantitative", "scale": {"domain": [250, 900], "nice": false, "zero": false}, "axis": {"values": [250, 350, 450, 550, 650, 750, 850], "format": "d", "title": "Peak velocity (mm/s)"}}, "yError": {"field": "eg"}}},
            {"mark": {"type": "errorband", "color": "#e03a3a", "band": {"opacity": 0.45}}, "encoding": {"y": {"field": "a", "type": "quantitative", "scale": {"domain": [250, 900], "nice": false, "zero": false}, "axis": {"values": [250, 350, 450, 550, 650, 750, 850], "format": "d", "title": "Peak velocity (mm/s)"}}, "yError": {"field": "ea"}}},
            {"mark": {"type": "line", "color": "#0000ff"}, "encoding": {"y": {"field": "g", "type": "quantitative", "scale": {"domain": [250, 900], "nice": false, "zero": false}, "axis": {"values": [250, 350, 450, 550, 650, 750, 850], "format": "d", "title": "Peak velocity (mm/s)"}}}},
            {"mark": {"type": "line", "color": "#ff0000"}, "encoding": {"y": {"field": "a", "type": "quantitative", "scale": {"domain": [250, 900], "nice": false, "zero": false}, "axis": {"values": [250, 350, 450, 550, 650, 750, 850], "format": "d", "title": "Peak velocity (mm/s)"}}}}
          ]
        },
        {
          "width": 111, "height": 174,
          "data": {"name": "B_ET"},
          "encoding": {"x": {"field": "t", "type": "quantitative", "scale": {"domain": [1, 55], "nice": false}, "axis": {"values": [10, 20, 30, 40, 50], "labels": false, "title": null}}},
          "layer": [
            {"mark": {"type": "errorband", "color": "#4444ff", "band": {"opacity": 0.4}}, "encoding": {"y": {"field": "g", "type": "quantitative", "scale": {"domain": [250, 900], "nice": false, "zero": false}, "axis": {"values": [250, 350, 450, 550, 650, 750, 850], "labels": false, "title": null}}, "yError": {"field": "eg"}}},
            {"mark": {"type": "errorband", "color": "#e03a3a", "band": {"opacity": 0.45}}, "encoding": {"y": {"field": "a", "type": "quantitative", "scale": {"domain": [250, 900], "nice": false, "zero": false}, "axis": {"values": [250, 350, 450, 550, 650, 750, 850], "labels": false, "title": null}}, "yError": {"field": "ea"}}},
            {"mark": {"type": "line", "color": "#0000ff"}, "encoding": {"y": {"field": "g", "type": "quantitative", "scale": {"domain": [250, 900], "nice": false, "zero": false}, "axis": {"values": [250, 350, 450, 550, 650, 750, 850], "labels": false, "title": null}}}},
            {"mark": {"type": "line", "color": "#ff0000"}, "encoding": {"y": {"field": "a", "type": "quantitative", "scale": {"domain": [250, 900], "nice": false, "zero": false}, "axis": {"values": [250, 350, 450, 550, 650, 750, 850], "labels": false, "title": null}}}}
          ]
        },
        {
          "width": 111, "height": 174,
          "data": {"name": "B_MT"},
          "encoding": {"x": {"field": "t", "type": "quantitative", "scale": {"domain": [1, 55], "nice": false}, "axis": {"values": [10, 20, 30, 40, 50], "labels": false, "title": null}}},
          "layer": [
            {"mark": {"type": "errorband", "color": "#4444ff", "band": {"opacity": 0.4}}, "encoding": {"y": {"field": "g", "type": "quantitative", "scale": {"domain": [250, 900], "nice": false, "zero": false}, "axis": {"values": [250, 350, 450, 550, 650, 750, 850], "labels": false, "title": null}}, "yError": {"field": "eg"}}},
            {"mark": {"type": "errorband", "color": "#e03a3a", "band": {"opacity": 0.45}}, "encoding": {"y": {"field": "a", "type": "quantitative", "scale": {"domain": [250, 900], "nice": false, "zero": false}, "axis": {"values": [250, 350, 450, 550, 650, 750, 850], "labels": false, "title": null}}, "yError": {"field": "ea"}}},
            {"mark": {"type": "line", "color": "#0000ff"}, "encoding": {"y": {"field": "g", "type": "quantitative", "scale": {"domain": [250, 900], "nice": false, "zero": false}, "axis": {"values": [250, 350, 450, 550, 650, 750, 850], "labels": false, "title": null}}}},
            {"mark": {"type": "line", "color": "#ff0000"}, "encoding": {"y": {"field": "a", "type": "quantitative", "scale": {"domain": [250, 900], "nice": false, "zero": false}, "axis": {"values": [250, 350, 450, 550, 650, 750, 850], "labels": false, "title": null}}}}
          ]
        },
        {
          "width": 111, "height": 174,
          "data": {"name": "B_LT"},
          "encoding": {"x": {"field": "t", "type": "quantitative", "scale": {"domain": [1, 55], "nice": false}, "axis": {"values": [10, 20, 30, 40, 50], "labels": false, "title": null}}},
          "layer": [
            {"mark": {"type": "errorband", "color": "#4444ff", "band": {"opacity": 0.4}}, "encoding": {"y": {"field": "g", "type": "quantitative", "scale": {"domain": [250, 900], "nice": false, "zero": false}, "axis": {"values": [250, 350, 450, 550, 650, 750, 850], "labels": false, "title": null}}, "yError": {"field": "eg"}}},
            {"mark": {"type": "errorband", "color": "#e03a3a", "band": {"opacity": 0.45}}, "encoding": {"y": {"field": "a", "type": "quantitative", "scale": {"domain": [250, 900], "nice": false, "zero": false}, "axis": {"values": [250, 350, 450, 550, 650, 750, 850], "labels": false, "title": null}}, "yError": {"field": "ea"}}},
            {"mark": {"type": "line", "color": "#0000ff"}, "encoding": {"y": {"field": "g", "type": "quantitative", "scale": {"domain": [250, 900], "nice": false, "zero": false}, "axis": {"values": [250, 350, 450, 550, 650, 750, 850], "labels": false, "title": null}}}},
            {"mark": {"type": "line", "color": "#ff0000"}, "encoding": {"y": {"field": "a", "type": "quantitative", "scale": {"domain": [250, 900], "nice": false, "zero": false}, "axis": {"values": [250, 350, 450, 550, 650, 750, 850], "labels": false, "title": null}}}}
          ]
        },
        {
          "width": 111, "height": 174,
          "data": {"name": "B_WO"},
          "encoding": {"x": {"field": "t", "type": "quantitative", "scale": {"domain": [1, 55], "nice": false}, "axis": {"values": [10, 20, 30, 40, 50], "labels": false, "title": null}}},
          "layer": [
            {"mark": {"type": "errorband", "color": "#4444ff", "band": {"opacity": 0.4}}, "encoding": {"y": {"field": "g", "type": "quantitative", "scale": {"domain": [250, 900], "nice": false, "zero": false}, "axis": {"values": [250, 350, 450, 550, 650, 750, 850], "labels": false, "title": null}}, "yError": {"field": "eg"}}},
            {"mark": {"type": "errorband", "color": "#e03a3a", "band": {"opacity": 0.45}}, "encoding": {"y": {"field": "a", "type": "quantitative", "scale": {"domain": [250, 900], "nice": false, "zero": false}, "axis": {"values": [250, 350, 450, 550, 650, 750, 850], "labels": false, "title": null}}, "yError": {"field": "ea"}}},
            {"mark": {"type": "line", "color": "#0000ff"}, "encoding": {"y": {"field": "g", "type": "quantitative", "scale": {"domain": [250, 900], "nice": false, "zero": false}, "axis": {"values": [250, 350, 450, 550, 650, 750, 850], "labels": false, "title": null}}}},
            {"mark": {"type": "line", "color": "#ff0000"}, "encoding": {"y": {"field": "a", "type": "quantitative", "scale": {"domain": [250, 900], "nice": false, "zero": false}, "axis": {"values": [250, 350, 450, 550, 650, 750, 850], "labels": false, "title": null}}}}
          ]
        }
      ]
    }
  ],
  "spacing": 18,
  "resolve": {"legend": {"color": "independent"}},
  "config": {
    "font": "Liberation Sans",
    "view": {"stroke": null},
    "line": {"strokeWidth": 1.8},
    "title": {"fontSize": 15, "fontWeight": "normal", "offset": 4, "frame": "group", "color": "#000"},
    "axis": {
      "grid": false,
      "domain": true,
      "ticks": true,
      "domainColor": "#333",
      "domainWidth": 1.2,
      "tickColor": "#333",
      "tickSize": -4,
      "labelFontSize": 10.5,
      "labelColor": "#000",
      "labelPadding": 6,
      "labelAngle": 0,
      "titleFontSize": 13.5,
      "titleFontWeight": "normal",
      "titleColor": "#000",
      "titlePadding": 5
    },
    "axisX": {"titleFontSize": 15, "titlePadding": 2},
    "legend": {"labelFont": "Liberation Sans", "labelColor": "#000"}
  }
}
